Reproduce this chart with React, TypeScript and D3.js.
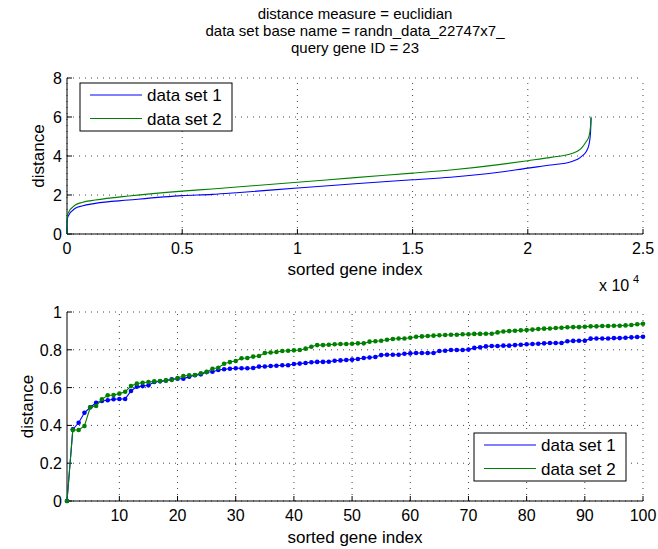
import React from "react";
import * as d3 from "d3";

const width = 658;
const height = 549;

const titleLines = [
  "distance measure = euclidian",
  "data set base name = randn_data_22747x7_",
  "query gene ID = 23",
];
const seriesNames = ["data set 1", "data set 2"];
const colors = ["#0000ff", "#008000"];

// top panel: sorted distances over all genes
const topIndex = [1, 2, 40, 360, 651, 1230, 2680, 5000, 6300, 7500, 10000, 12500, 15000, 16650, 18830, 20000, 21000, 21880, 22000, 22200, 22320, 22530, 22650, 22720, 22747];
const topSet1 = [0, 0.6, 0.9, 1.32, 1.44, 1.57, 1.74, 1.97, 2.03, 2.13, 2.36, 2.58, 2.78, 2.91, 3.18, 3.38, 3.54, 3.71, 3.76, 3.86, 3.97, 4.22, 4.56, 5.16, 5.95];
const topSet2 = [0, 0.75, 1.05, 1.49, 1.62, 1.74, 1.95, 2.2, 2.31, 2.42, 2.65, 2.89, 3.12, 3.28, 3.57, 3.76, 3.93, 4.12, 4.17, 4.28, 4.39, 4.73, 4.99, 5.5, 6.02];
const topXTicks = [0, 5000, 10000, 15000, 20000, 25000];
const topXTickLabels = ["0", "0.5", "1", "1.5", "2", "2.5"];
const topYTicks = [0, 2, 4, 6, 8];

// bottom panel: first 100 sorted genes
const bottomSet1 = [
  0, 0.379, 0.414, 0.467, 0.496, 0.52, 0.529, 0.533, 0.538, 0.54,
  0.54, 0.582, 0.605, 0.608, 0.612, 0.63, 0.633, 0.637, 0.644, 0.647,
  0.647, 0.658, 0.665, 0.67, 0.682, 0.684, 0.693, 0.697, 0.7, 0.702,
  0.702, 0.702, 0.704, 0.711, 0.712, 0.714, 0.716, 0.718, 0.718, 0.725,
  0.727, 0.73, 0.734, 0.736, 0.736, 0.737, 0.742, 0.744, 0.746, 0.748,
  0.751, 0.757, 0.759, 0.762, 0.772, 0.774, 0.774, 0.774, 0.779, 0.781,
  0.783, 0.783, 0.783, 0.783, 0.794, 0.795, 0.799, 0.799, 0.799, 0.801,
  0.81, 0.813, 0.818, 0.82, 0.82, 0.822, 0.822, 0.825, 0.827, 0.829,
  0.831, 0.832, 0.834, 0.836, 0.836, 0.836, 0.845, 0.847, 0.848, 0.848,
  0.859, 0.86, 0.86, 0.86, 0.862, 0.862, 0.864, 0.866, 0.868, 0.869,
];
const bottomSet2 = [
  0, 0.376, 0.376, 0.397, 0.496, 0.503, 0.538, 0.559, 0.561, 0.568,
  0.578, 0.608, 0.621, 0.626, 0.63, 0.633, 0.635, 0.638, 0.64, 0.651,
  0.661, 0.665, 0.667, 0.676, 0.683, 0.7, 0.705, 0.726, 0.735, 0.741,
  0.755, 0.757, 0.764, 0.767, 0.783, 0.786, 0.788, 0.794, 0.795, 0.797,
  0.799, 0.806, 0.816, 0.825, 0.825, 0.827, 0.829, 0.831, 0.831, 0.832,
  0.834, 0.834, 0.843, 0.845, 0.848, 0.853, 0.857, 0.86, 0.86, 0.864,
  0.869, 0.871, 0.873, 0.875, 0.877, 0.878, 0.88, 0.88, 0.882, 0.882,
  0.884, 0.884, 0.885, 0.885, 0.892, 0.897, 0.899, 0.901, 0.903, 0.905,
  0.907, 0.91, 0.912, 0.913, 0.915, 0.917, 0.919, 0.92, 0.92, 0.922,
  0.924, 0.924, 0.926, 0.926, 0.927, 0.927, 0.929, 0.931, 0.935, 0.938,
];
const bottomXTicks = [10, 20, 30, 40, 50, 60, 70, 80, 90, 100];
const bottomYTicks = [0, 0.2, 0.4, 0.6, 0.8, 1];

const font = "Liberation Sans, Arial, Helvetica, sans-serif";
const tickFs = 16;
const labelFs = 17;

const left = 67;
const right = 643;

const topX = d3.scaleLinear().domain([0, 25000]).range([left, right]);
const topY = d3.scaleLinear().domain([0, 8]).range([234, 78]);
const botX = d3.scaleLinear().domain([1, 100]).range([left, right]);
const botY = d3.scaleLinear().domain([0, 1]).range([501, 312]);

type Scale = d3.ScaleLinear<number, number>;

const Frame = ({ x, y, xt, yt, xl, yl }: { x: Scale; y: Scale; xt: number[]; yt: number[]; xl: string[]; yl: string[] }) => {
  const [x0, x1] = x.range();
  const [y0, y1] = y.range();
  return (
    <g fontFamily={font} fontSize={tickFs}>
      {xt.map((t) => (
        <line key={"gx" + t} x1={x(t)} x2={x(t)} y1={y0} y2={y1} stroke="#444" strokeWidth={1} strokeDasharray="1,5" />
      ))}
      {yt.map((t) => (
        <line key={"gy" + t} x1={x0} x2={x1} y1={y(t)} y2={y(t)} stroke="#444" strokeWidth={1} strokeDasharray="1,5" />
      ))}
      {xt.map((t) => (
        <line key={"tx" + t} x1={x(t)} x2={x(t)} y1={y0} y2={y0 - 5} stroke="#000" />
      ))}
      {yt.map((t) => (
        <line key={"ty" + t} x1={x0} x2={x0 + 5} y1={y(t)} y2={y(t)} stroke="#000" />
      ))}
      <line x1={x0} x2={x1} y1={y0} y2={y0} stroke="#000" />
      <line x1={x0} x2={x0} y1={y0} y2={y1} stroke="#000" />
      {xt.map((t, i) => (
        <text key={"lx" + t} x={x(t)} y={y0 + 20} textAnchor="middle">{xl[i]}</text>
      ))}
      {yt.map((t, i) => (
        <text key={"ly" + t} x={x0 - 5} y={y(t) + 6} textAnchor="end">{yl[i]}</text>
      ))}
    </g>
  );
};

const Legend = ({ x, y }: { x: number; y: number }) => (
  <g fontFamily={font} fontSize={labelFs}>
    <rect x={x} y={y} width={152} height={48} fill="#fff" stroke="#000" />
    {seriesNames.map((n, i) => (
      <g key={n}>
        <line x1={x + 10} x2={x + 62} y1={y + 12 + i * 23.5} y2={y + 12 + i * 23.5} stroke={colors[i]} />
        <text x={x + 67} y={y + 18 + i * 23.5}>{n}</text>
      </g>
    ))}
  </g>
);

export default function App() {
  const topLine = d3
    .line<number>()
    .x((_, i) => topX(topIndex[i]))
    .y((d) => topY(d))
    .curve(d3.curveMonotoneX);
  const botLine = d3
    .line<number>()
    .x((_, i) => botX(i + 1))
    .y((d) => botY(d));

  const topSeries = [topSet1, topSet2];
  const botSeries = [bottomSet1, bottomSet2];

  return (
    <svg width={width} height={height} style={{ position: "absolute", left: 0, top: 0, background: "#fff" }}>
      <rect width={width} height={height} fill="#fff" />
      <g fontFamily={font} fontSize={15} textAnchor="middle">
        {titleLines.map((t, i) => (
          <text key={t} x={355} y={19 + i * 17}>{t}</text>
        ))}
      </g>

      <Frame x={topX} y={topY} xt={topXTicks} yt={topYTicks} xl={topXTickLabels} yl={topYTicks.map(String)} />
      {topSeries.map((s, k) => (
        <path key={k} d={topLine(s) || ""} fill="none" stroke={colors[k]} strokeWidth={1.1} />
      ))}
      <Legend x={80} y={83} />
      <g fontFamily={font} fontSize={labelFs}>
        <text x={355} y={275} textAnchor="middle">sorted gene index</text>
        <text x={599} y={291} fontSize={tickFs}>x 10</text>
        <text x={633} y={283} fontSize={11}>4</text>
        <text transform={`translate(44,${(topY.range()[0] + topY.range()[1]) / 2}) rotate(-90)`} textAnchor="middle">distance</text>
      </g>

      <Frame x={botX} y={botY} xt={bottomXTicks} yt={bottomYTicks} xl={bottomXTicks.map(String)} yl={bottomYTicks.map(String)} />
      {botSeries.map((s, k) => (
        <g key={k}>
          <path d={botLine(s) || ""} fill="none" stroke={colors[k]} strokeWidth={1.1} />
          {s.map((v, i) => (
            <circle key={i} cx={botX(i + 1)} cy={botY(v)} r={2.3} fill={colors[k]} />
          ))}
        </g>
      ))}
      <Legend x={474} y={433} />
      <g fontFamily={font} fontSize={labelFs}>
        <text x={355} y={543} textAnchor="middle">sorted gene index</text>
        <text transform={`translate(33,${(botY.range()[0] + botY.range()[1]) / 2}) rotate(-90)`} textAnchor="middle">distance</text>
      </g>
    </svg>
  );
}
